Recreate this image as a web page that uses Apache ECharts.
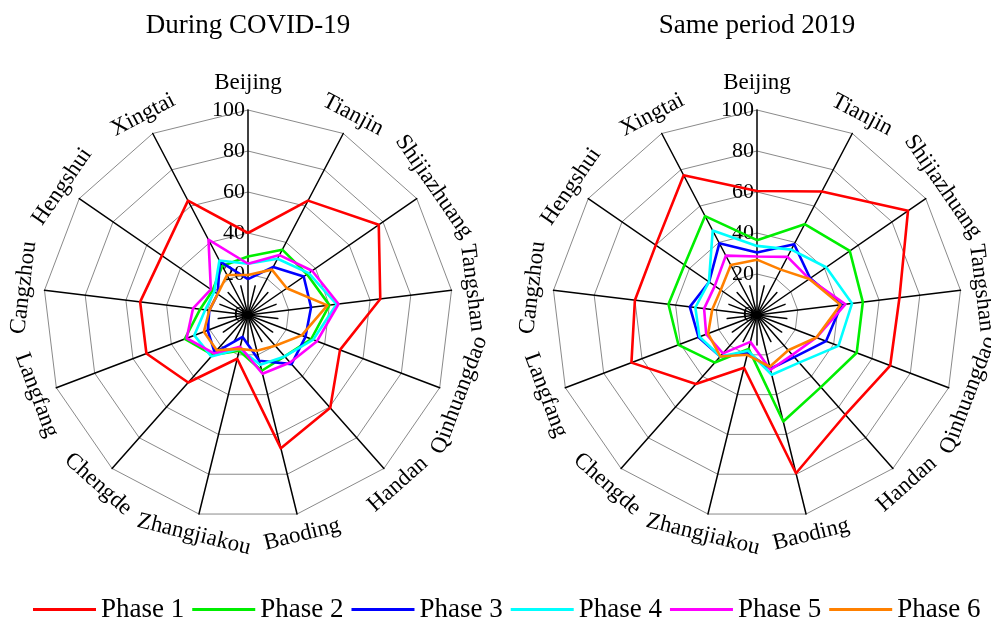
<!DOCTYPE html>
<html><head><meta charset="utf-8">
<script src="https://cdn.jsdelivr.net/npm/echarts@6/dist/echarts.min.js"></script>
<style>html,body{margin:0;padding:0;background:#fff}#c{width:991px;height:619px}</style>
</head><body><div id="c"></div>
<script>
// ---------- data ----------
const cities = ['Beijing','Tianjin','Shijiazhuang','Tangshan','Qinhuangdao','Handan','Baoding','Zhangjiakou','Chengde','Langfang','Cangzhou','Hengshui','Xingtai'];
const phases = ['Phase 1','Phase 2','Phase 3','Phase 4','Phase 5','Phase 6'];
const titles = ['During COVID-19','Same period 2019'];
const tickLabels = ['0','20','40','60','80','100'];

// During COVID-19
const covidPhase1 = [40, 63, 77.5, 65, 48, 60.5, 67, 22, 44, 53, 53, 51, 63];
const covidPhase2 = [28.5, 36, 35, 40, 33, 27, 28, 18, 26, 33, 23.5, 21, 27];
const covidPhase3 = [17.5, 26.5, 33, 31, 30, 32, 23, 11, 24.5, 21, 19, 18, 29.5];
const covidPhase4 = [25, 31, 36, 43.5, 34, 27, 25, 17, 27, 28, 21, 20, 30];
const covidPhase5 = [25, 33, 38, 44.5, 36, 31, 29.5, 16, 25, 32, 27, 22, 41.5];
const covidPhase6 = [19.5, 25, 23, 39, 28, 20, 18, 17, 23, 23, 19, 18, 22];

// Same period 2019
const p2019Phase1 = [60.5, 68, 89.5, 70, 69.5, 65, 79.5, 26.5, 45, 65.5, 60, 60, 77];
const p2019Phase2 = [36.5, 50, 55, 52, 52, 47, 53.5, 17, 31, 41, 43.5, 43, 54.5];
const p2019Phase3 = [30.5, 39, 31.5, 41.5, 36, 27.4, 27, 19, 27, 30.5, 33, 28.4, 39.5];
const p2019Phase4 = [33.7, 36, 41, 46.7, 42.5, 31, 30, 18, 27, 30, 30.3, 28.5, 46.5];
const p2019Phase5 = [28.5, 32, 31, 43.5, 31, 26, 27.5, 13.5, 25, 26.5, 26, 25, 32.7];
const p2019Phase6 = [27, 25, 31, 41, 31, 23, 26, 20, 27, 25.5, 22, 21.5, 27.5];

const colors = ['#ff0000','#00ee00','#0000ff','#00ffff','#ff00ff','#ff8000'];

// ---------- chart ----------
const chart = echarts.init(document.getElementById('c'));
const FONT = "'Liberation Serif','Times New Roman',serif";
const centers = [[248,315],[757,315]];
const R = 205;
const n = cities.length;
// ECharts radar runs counter-clockwise; reorder so cities run clockwise
const order = [0].concat(Array.from({length:n-1},(_,i)=>n-1-i));
const datasets = [
  [covidPhase1,covidPhase2,covidPhase3,covidPhase4,covidPhase5,covidPhase6],
  [p2019Phase1,p2019Phase2,p2019Phase3,p2019Phase4,p2019Phase5,p2019Phase6]
];

const radar = [];
centers.forEach(c => {
  radar.push({
    center: c, radius: R, startAngle: 90, shape: 'polygon', splitNumber: 5,
    indicator: order.map((k,i)=>({name: cities[k], min:0, max:100,
      axisLabel: i===0 ? {show:true} : {show:false}})),
    axisName: {show:false},
    axisLine: {lineStyle:{color:'#000', width:1.5}},
    splitLine: {lineStyle:{color:'#8a8a8a', width:1}},
    splitArea: {show:false},
    axisTick: {show:false},
    axisLabel: {show:false, color:'#000', fontFamily:FONT, fontSize:22, margin:3,
      formatter: v => tickLabels[Math.round(v/20)] || ''}
  });
});
// short spokes continuing each axis through the centre
centers.forEach(c => {
  radar.push({
    center: c, radius: 30, startAngle: 270, shape: 'polygon',
    indicator: cities.map(()=>({name:'', min:0, max:100})),
    axisName: {show:false},
    axisLine: {lineStyle:{color:'#000', width:1.5}},
    splitLine: {show:false}, splitArea: {show:false},
    axisTick: {show:false}, axisLabel: {show:false}
  });
});

const series = [];
datasets.forEach((set, r) => {
  set.forEach((vals, p) => {
    series.push({
      type:'radar', radarIndex:r, name:phases[p], symbol:'none', silent:true, z: 3+p,
      lineStyle:{color:colors[p], width:2.6},
      itemStyle:{color:colors[p]},
      data:[{value: order.map(k=>vals[k]), name: phases[p]}]
    });
  });
});

const graphic = [];
titles.forEach((t, r) => {
  graphic.push({type:'text', x:centers[r][0], y:26, style:{text:t, fill:'#000', font:`27px ${FONT}`, textAlign:'center', textVerticalAlign:'middle'}});
});
centers.forEach(c => {
  for (let k=0;k<n;k++){
    const th = k*360/n;
    const rad = th*Math.PI/180;
    const rr = k===0 ? 232 : 226;
    let phi;
    if (th <= 90) phi = th; else if (th >= 270) phi = th-360; else phi = th-180;
    graphic.push({type:'text', x:c[0]+rr*Math.sin(rad), y:c[1]-rr*Math.cos(rad), rotation:-phi*Math.PI/180,
      style:{text:cities[k], fill:'#000', font:`23px ${FONT}`, textAlign:'center', textVerticalAlign:'middle'}});
  }
  graphic.push({type:'circle', shape:{cx:c[0], cy:c[1], r:4}, style:{fill:'#000'}, z:100});
});

chart.setOption({
  animation:false,
  backgroundColor:'#fff',
  radar, series, graphic,
  legend:{data:phases, top:591, left:28, itemWidth:63, itemHeight:3, itemGap:8, icon:'rect',
    textStyle:{fontFamily:FONT, fontSize:27, color:'#000'}, selectedMode:false}
});
</script></body></html>
